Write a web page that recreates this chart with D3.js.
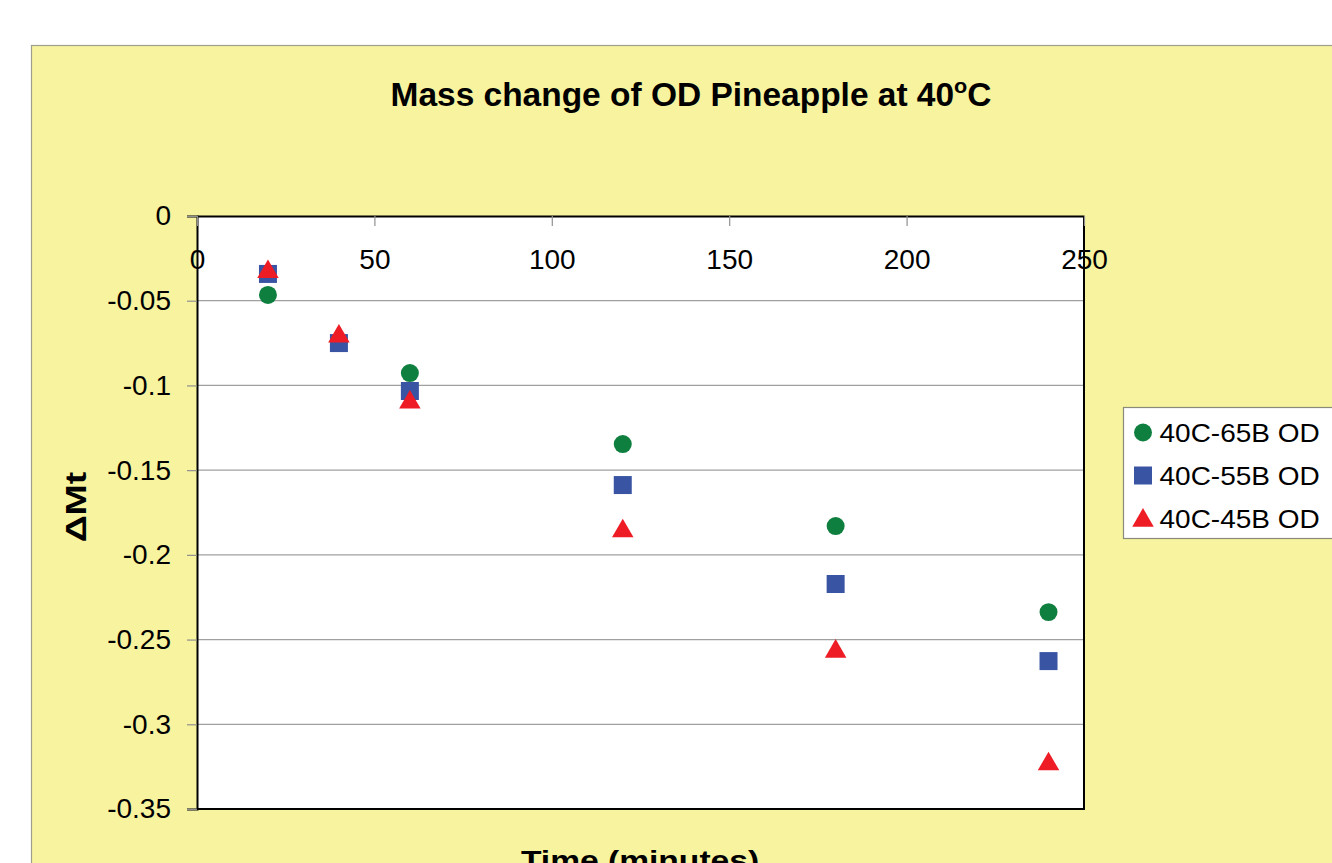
<!DOCTYPE html>
<html>
<head>
<meta charset="utf-8">
<script src="https://cdn.jsdelivr.net/npm/d3@7"></script>
<style>
  body { margin: 0; background: #fff; }
  svg text { font-family: Arial, "Liberation Sans", sans-serif; }
</style>
</head>
<body>
<div id="container"></div>
<script>
// DATA
const times = [20, 40, 60, 120, 180, 240];
const od65 = [-0.0466, -0.074, -0.0927, -0.1346, -0.183, -0.2338];
const od55 = [-0.0342, -0.075, -0.1033, -0.1588, -0.2172, -0.2627];
const od45 = [-0.033, -0.071, -0.110, -0.186, -0.257, -0.3235];
const seriesNames = ["40C-65B OD", "40C-55B OD", "40C-45B OD"];
const seriesColors = ["#0e7f3e", "#3a54a4", "#ee1c25"];
const xTicks = [0, 50, 100, 150, 200, 250];
const yTicks = [0, -0.05, -0.1, -0.15, -0.2, -0.25, -0.3, -0.35];

const w = 1332, h = 863;
const plot = {left: 197, right: 1084, top: 216, bottom: 809};

const chart = d3.select('#container')
                .append('svg')
                .attr('width', w)
                .attr('height', h);

// outer chart area
chart.append('rect')
     .attr('x', 31.5).attr('y', 45.5)
     .attr('width', w).attr('height', h)
     .attr('fill', '#f7f39e')
     .attr('stroke', '#a09f8c')
     .attr('stroke-width', 1.2);

// plot area
chart.append('rect')
     .attr('x', plot.left).attr('y', plot.top)
     .attr('width', plot.right - plot.left)
     .attr('height', plot.bottom - plot.top)
     .attr('fill', '#fff');

// SCALES
const x = d3.scaleLinear().domain([0, 250]).range([plot.left, plot.right]);
const y = d3.scaleLinear().domain([-0.35, 0]).range([plot.bottom, plot.top]);

// gridlines
chart.append('g')
     .selectAll('line')
     .data(yTicks.slice(1, -1)).enter()
     .append('line')
     .attr('x1', plot.left).attr('x2', plot.right)
     .attr('y1', d => y(d)).attr('y2', d => y(d))
     .attr('stroke', '#a0a0a0')
     .attr('stroke-width', 1.2);

// right and bottom border
chart.append('path')
     .attr('d', `M${plot.right},${plot.top}V${plot.bottom}H${plot.left}`)
     .attr('fill', 'none')
     .attr('stroke', '#000')
     .attr('stroke-width', 2);

// Y AXIS
const yAxis = d3.axisLeft(y)
                .tickValues(yTicks)
                .tickFormat(d => d === 0 ? "0" : String(d))
                .tickSize(10)
                .tickPadding(16);
const gy = chart.append('g')
     .attr('transform', `translate(${plot.left},0)`)
     .call(yAxis);
gy.select('.domain').attr('stroke', '#000').attr('stroke-width', 2);
gy.selectAll('.tick line').attr('stroke', '#909090').attr('stroke-width', 1.2);
gy.selectAll('.tick text').style('font-size', '28px').attr('fill', '#000');

// X AXIS (crosses at y = 0, ticks point into the plot)
const xAxis = d3.axisBottom(x)
                .tickValues(xTicks)
                .tickSize(0)
                .tickPadding(33);
const gx = chart.append('g')
     .attr('transform', `translate(0,${y(0)})`)
     .call(xAxis);
gx.select('.domain').attr('stroke', '#000').attr('stroke-width', 2);
gx.selectAll('.tick text').style('font-size', '28px').attr('fill', '#000');
gx.selectAll('.tick')
  .append('line')
  .attr('y1', 0).attr('y2', 10)
  .attr('stroke', '#909090')
  .attr('stroke-width', 1.2);

// MARKERS
const series = [od65, od55, od45];
const symbols = [d3.symbolCircle, d3.symbolSquare, d3.symbolTriangle];
const sizes = [254, 324, 200];

series.forEach((vals, i) => {
  chart.append('g')
       .selectAll('path')
       .data(times.map((t, j) => ({t: t, v: vals[j]}))).enter()
       .append('path')
       .attr('transform', d => `translate(${x(d.t)},${y(d.v)})`)
       .attr('d', d3.symbol().type(symbols[i]).size(sizes[i]))
       .attr('fill', seriesColors[i]);
});

// TITLES
const title = chart.append('text')
     .attr('transform', 'translate(691,106) scale(1.03,1)')
     .attr('text-anchor', 'middle')
     .style('font-size', '32.5px')
     .style('font-weight', 'bold');
title.append('tspan').text('Mass change of OD Pineapple at 40');
title.append('tspan').attr('dy', -13).style('font-size', '21px').text('o');
title.append('tspan').attr('dy', 13).text('C');

chart.append('text')
     .attr('transform', 'translate(86,507) rotate(-90) scale(1.25,1)')
     .attr('text-anchor', 'middle')
     .style('font-size', '30px')
     .style('font-weight', 'bold')
     .text('\u0394Mt');

chart.append('text')
     .attr('transform', 'translate(640,870) scale(1.2,1)')
     .attr('text-anchor', 'middle')
     .style('font-size', '28px')
     .style('font-weight', 'bold')
     .text('Time (minutes)');

// LEGEND
const legend = chart.append('g').attr('transform', 'translate(1123.5,407.5)');
legend.append('rect')
      .attr('width', 240).attr('height', 131)
      .attr('fill', '#fff')
      .attr('stroke', '#8a8a7a')
      .attr('stroke-width', 1.2);
const legendSizes = [254, 324, 200];
seriesNames.forEach((name, i) => {
  const ly = 25 + i * 43;
  legend.append('path')
        .attr('transform', `translate(19.5,${ly + (i === 2 ? 2 : 0)})`)
        .attr('d', d3.symbol().type(symbols[i]).size(legendSizes[i]))
        .attr('fill', seriesColors[i]);
  legend.append('text')
        .attr('transform', `translate(36,${ly + 9}) scale(1.12,1)`)
        .style('font-size', '25px')
        .text(name);
});
</script>
</body>
</html>
